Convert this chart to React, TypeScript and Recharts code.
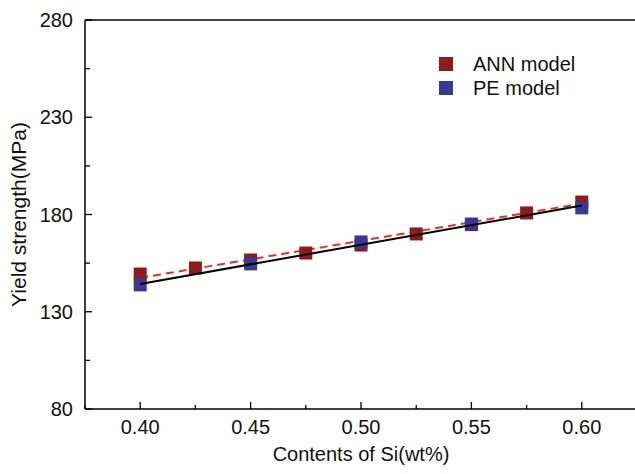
import React from 'react';
import {
  ComposedChart,
  Scatter,
  XAxis,
  YAxis,
  ReferenceLine,
} from 'recharts';

// Si content (wt%) for each model
const annX = [0.4, 0.425, 0.45, 0.475, 0.5, 0.525, 0.55, 0.575, 0.6];
const annY = [149.4, 152.5, 156.6, 160.2, 164.3, 170.0, 174.8, 180.8, 186.4];
const peX = [0.4, 0.45, 0.5, 0.55, 0.6];
const peY = [143.8, 154.6, 165.9, 175.1, 183.4];

// fitted trend lines (end points)
const fitX = [0.4, 0.6];
const annFitY = [147.4, 185.6];
const peFitY = [144.3, 184.6];

const xTicks = [0.375, 0.4, 0.425, 0.45, 0.475, 0.5, 0.525, 0.55, 0.575, 0.6, 0.625];
const xMajor = [0.4, 0.45, 0.5, 0.55, 0.6];
const yTicks = [80, 105, 130, 155, 180, 205, 230, 255, 280];
const yMajor = [80, 130, 180, 230, 280];

const legendItems = ['ANN model', 'PE model'];

const ANN_COLOR = '#8c1b1d';
const PE_COLOR = '#3b3794';
const FONT = 'Liberation Sans, Arial, sans-serif';
const FS = 20;

const annData = annX.map((x, i) => ({ x, y: annY[i] }));
const peData = peX.map((x, i) => ({ x, y: peY[i] }));
const annFit = fitX.map((x, i) => ({ x, y: annFitY[i] }));
const peFit = fitX.map((x, i) => ({ x, y: peFitY[i] }));

const Square = (color: string) => (props: any) => {
  const { cx, cy } = props;
  if (cx == null || cy == null) return null;
  return <rect x={cx - 6.5} y={cy - 6.5} width={13} height={13} fill={color} />;
};

const NoDot = () => null;

const X_MARGIN = 11;
const Y_MARGIN = 12;

const XTick = (props: any) => {
  const { x, y, payload } = props;
  const v = payload.value;
  const major = xMajor.some((m) => Math.abs(m - v) < 1e-6);
  const axisY = y - X_MARGIN;
  return (
    <g>
      <line x1={x} x2={x} y1={axisY} y2={axisY - (major ? 7 : 4)} stroke="#000" strokeWidth={1.3} />
      {major && (
        <text x={x} y={y} dy="0.71em" textAnchor="middle" fontSize={FS} fontFamily={FONT} fill="#111">
          {v.toFixed(2)}
        </text>
      )}
    </g>
  );
};

const YTick = (props: any) => {
  const { x, y, payload } = props;
  const v = payload.value;
  const major = yMajor.includes(v);
  const axisX = x + Y_MARGIN;
  return (
    <g>
      <line x1={axisX} x2={axisX + (major ? 7 : 5)} y1={y} y2={y} stroke="#000" strokeWidth={1.3} />
      {major && (
        <text x={x} y={y} dy="0.36em" textAnchor="end" fontSize={FS} fontFamily={FONT} fill="#111">
          {v}
        </text>
      )}
    </g>
  );
};

const LegendBox = () => (
  <div
    style={{
      position: 'absolute',
      left: 439,
      top: 52,
      fontFamily: FONT,
      fontSize: FS,
      color: '#111',
      lineHeight: '24px',
    }}
  >
    {legendItems.map((name, i) => (
      <div key={name} style={{ display: 'flex', alignItems: 'center' }}>
        <span
          style={{
            display: 'inline-block',
            width: 14,
            height: 14,
            background: i === 0 ? ANN_COLOR : PE_COLOR,
            marginRight: 20,
          }}
        />
        <span>{name}</span>
      </div>
    ))}
  </div>
);

export default function App() {
  return (
    <div style={{ position: 'absolute', left: 0, top: 0, width: 635, height: 474, overflow: 'hidden', background: '#fff' }}>
      <ComposedChart width={640} height={474} margin={{ top: 20, right: 3, bottom: 35, left: 0 }}>
        <XAxis
          type="number"
          dataKey="x"
          domain={[0.375, 0.625]}
          ticks={xTicks}
          interval={0}
          height={30}
          allowDataOverflow
          tickLine={false}
          tickSize={0}
          tickMargin={X_MARGIN}
          tick={<XTick />}
          stroke="#000"
          strokeWidth={1.5}
          label={{ value: 'Contents of Si(wt%)', position: 'bottom', offset: 8, fontSize: FS, fontFamily: FONT, fill: '#111' }}
        />
        <YAxis
          type="number"
          dataKey="y"
          domain={[80, 280]}
          ticks={yTicks}
          interval={0}
          width={85}
          tickLine={false}
          tickSize={0}
          tickMargin={Y_MARGIN}
          tick={<YTick />}
          stroke="#000"
          strokeWidth={1.5}
          label={{ value: 'Yield strength(MPa)', angle: -90, position: 'insideLeft', offset: 19, style: { textAnchor: 'middle' }, fontSize: 21, fontFamily: FONT, fill: '#111' }}
        />
        <ReferenceLine y={280} stroke="#000" strokeWidth={1.5} />
        <Scatter data={annFit} line={{ stroke: '#e8302a', strokeWidth: 2, strokeDasharray: '8 5' }} shape={NoDot} isAnimationActive={false} legendType="none" />
        <Scatter name="ANN model" data={annData} fill={ANN_COLOR} shape={Square(ANN_COLOR)} isAnimationActive={false} />
        <Scatter name="PE model" data={peData} fill={PE_COLOR} shape={Square(PE_COLOR)} isAnimationActive={false} />
        <Scatter data={peFit} line={{ stroke: '#000', strokeWidth: 2 }} shape={NoDot} isAnimationActive={false} legendType="none" />
      </ComposedChart>
      <LegendBox />
    </div>
  );
}
